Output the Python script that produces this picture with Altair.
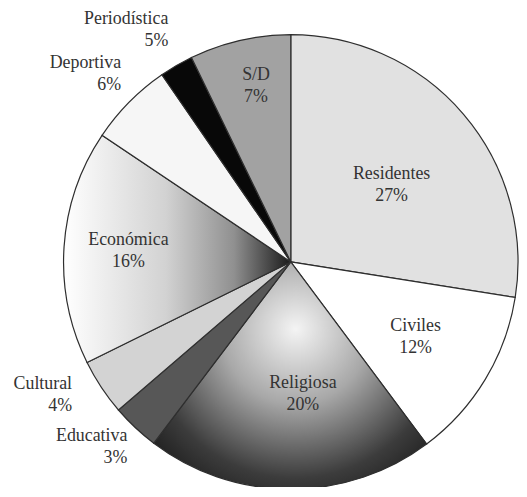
import altair as alt
import pandas as pd

# ---- data ----
categories = ["Residentes", "Civiles", "Religiosa", "Educativa", "Cultural",
              "Económica", "Deportiva", "Periodística", "S/D"]
# slice sizes as drawn (percent of the circle)
shares = [27.5, 12.3, 20.5, 3.4, 4.0, 16.7, 6.0, 2.4, 7.2]
# printed percentage labels
pct_labels = ["27%", "12%", "20%", "3%", "4%", "16%", "6%", "5%", "7%"]

df = pd.DataFrame({
    "cat": categories,
    "share": shares,
    "pct": pct_labels,
    "order": list(range(len(categories))),
})

# ---- styles / layout ----
fills = {
    "Residentes": "#e1e1e1",
    "Civiles": "#ffffff",
    "Religiosa": {
        "gradient": "radial", "x1": 0.52, "y1": 0.33, "r1": 0,
        "x2": 0.52, "y2": 0.33, "r2": 0.78,
        "stops": [
            {"offset": 0.0, "color": "#f4f4f4"},
            {"offset": 0.35, "color": "#a8a8a8"},
            {"offset": 0.7, "color": "#3c3c3c"},
            {"offset": 1.0, "color": "#0c0c0c"},
        ],
    },
    "Educativa": "#575757",
    "Cultural": "#d3d3d3",
    "Económica": {
        "gradient": "linear", "x1": 0, "y1": 0, "x2": 1, "y2": 0,
        "stops": [
            {"offset": 0.0, "color": "#ffffff"},
            {"offset": 0.45, "color": "#d2d2d2"},
            {"offset": 0.75, "color": "#909090"},
            {"offset": 1.0, "color": "#1a1a1a"},
        ],
    },
    "Deportiva": "#f6f6f6",
    "Periodística": "#080808",
    "S/D": "#a2a2a2",
}
inside = ["Residentes", "Civiles", "Religiosa", "Económica", "S/D"]
outside = ["Educativa", "Cultural", "Deportiva", "Periodística"]
# label anchor: distance from centre (px) and small angular nudge (in % of circle)
label_radius = {"Residentes": 128, "Civiles": 147, "Religiosa": 134, "Económica": 164,
                "S/D": 181, "Educativa": 249, "Cultural": 258, "Deportiva": 255,
                "Periodística": 264}
label_nudge = {"Residentes": 0.85, "Civiles": 0, "Religiosa": -1.5, "Económica": 0,
               "S/D": 0.5, "Educativa": -0.5, "Cultural": 0.6, "Deportiva": 0.9,
               "Periodística": 0.66}
R = 229
LH = 22
theta_scale = alt.Scale(domain=[0, 100])


def lookup_expr(d, default):
    return " : ".join(f"datum.cat == '{k}' ? {v}" for k, v in d.items()) + f" : {default}"


base = (
    alt.Chart(df)
    .transform_window(end="sum(share)", sort=[alt.SortField("order")], frame=[None, 0])
    .transform_calculate(
        start="datum.end - datum.share",
        mid="datum.end - datum.share / 2",
        label="datum.cat + '\\n' + datum.pct",
        r=lookup_expr(label_radius, 150),
        nudge=lookup_expr(label_nudge, 0),
    )
    .transform_calculate(tmid="datum.mid + datum.nudge")
)

layers = []
for c in categories:
    layers.append(
        base.transform_filter(alt.datum.cat == c)
        .mark_arc(outerRadius=R, fill=fills[c], stroke="#2e2e2e", strokeWidth=1.2)
        .encode(
            theta=alt.Theta("start:Q", scale=theta_scale),
            theta2="end:Q",
        )
    )

text_common = dict(font="Liberation Serif", fontSize=18, color="#333333",
                   lineBreak="\n", lineHeight=LH, baseline="middle", dy=-LH / 2)

txt_in = (
    base.transform_filter(alt.FieldOneOfPredicate(field="cat", oneOf=inside))
    .mark_text(align="center", **text_common)
    .encode(
        theta=alt.Theta("tmid:Q", scale=theta_scale),
        radius=alt.Radius("r:Q", scale=None),
        text="label:N",
    )
)
txt_out = (
    base.transform_filter(alt.FieldOneOfPredicate(field="cat", oneOf=outside))
    .mark_text(align="right", **text_common)
    .encode(
        theta=alt.Theta("tmid:Q", scale=theta_scale),
        radius=alt.Radius("r:Q", scale=None),
        text="label:N",
    )
)

chart = (
    alt.layer(*layers, txt_in, txt_out)
    .properties(
        width=460, height=450,
        autosize=alt.AutoSizeParams(type="none"),
        padding={"left": 55, "top": 29, "right": 0, "bottom": 0},
        background="white",
    )
    .configure_view(stroke=None)
)

chart.save("out.html", embed_options={"renderer": "svg", "actions": False})
